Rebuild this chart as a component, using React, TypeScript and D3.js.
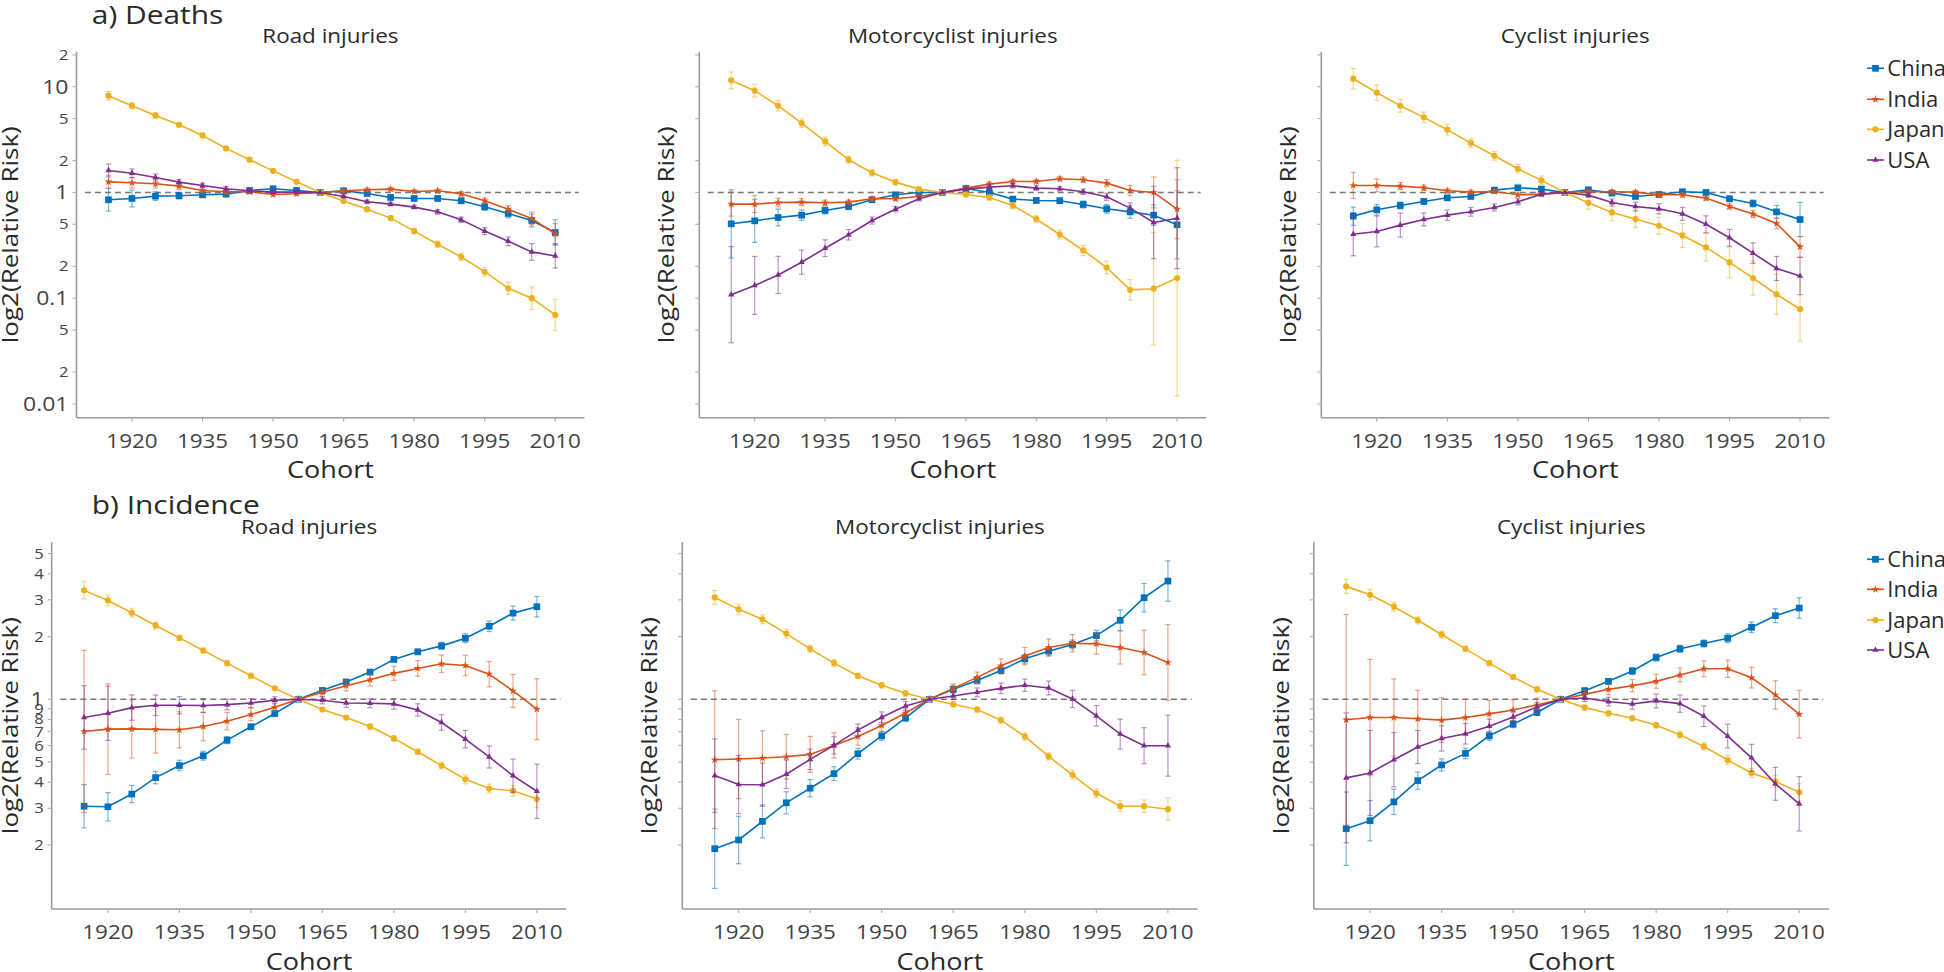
import React from "react";
import * as d3 from "d3";

// ---------- categories / labels ----------
const years = [1915, 1920, 1925, 1930, 1935, 1940, 1945, 1950, 1955, 1960, 1965, 1970, 1975, 1980, 1985, 1990, 1995, 2000, 2005, 2010];
const countries = ["China", "India", "Japan", "USA"];
const countryColors = ["#0072BD", "#D95319", "#EDB120", "#7E2F8E"];
const causes = ["Road injuries", "Motorcyclist injuries", "Cyclist injuries"];
const sectionTitles = ["a) Deaths", "b) Incidence"];
const xTickYears = [1920, 1935, 1950, 1965, 1980, 1995, 2010];
const deathTicks = [20, 10, 5, 2, 1, 0.5, 0.2, 0.1, 0.05, 0.02, 0.01];
const deathTickLabels = ["2", "10", "5", "2", "1", "5", "2", "0.1", "5", "2", "0.01"];
const incidenceTicks = [5, 4, 3, 2, 1, 0.9, 0.8, 0.7, 0.6, 0.5, 0.4, 0.3, 0.2];
const incidenceTickLabels = ["5", "4", "3", "2", "1", "9", "8", "7", "6", "5", "4", "3", "2"];
const majorTicks = [10, 1, 0.1, 0.01];

// ---------- a) Deaths: relative risk (value) and CI multiplicative half-width (err) ----------
const deathRoadChina = [0.853, 0.877, 0.923, 0.930, 0.950, 0.964, 1.044, 1.083, 1.044, 1, 1.037, 0.978, 0.897, 0.877, 0.877, 0.834, 0.732, 0.633, 0.543, 0.418];
const deathRoadChinaErr = [1.28, 1.2, 1.1, 1.07, 1.06, 1.05, 1.04, 1.04, 1.03, 1, 1.03, 1.04, 1.05, 1.05, 1.05, 1.06, 1.08, 1.1, 1.15, 1.32];
const deathRoadIndia = [1.26, 1.235, 1.208, 1.148, 1.044, 1.015, 1.015, 0.957, 0.971, 1, 1.037, 1.06, 1.075, 1.022, 1.037, 0.971, 0.834, 0.695, 0.567, 0.406];
const deathRoadIndiaErr = [1.15, 1.12, 1.1, 1.08, 1.06, 1.05, 1.04, 1.04, 1.03, 1, 1.03, 1.04, 1.04, 1.04, 1.04, 1.05, 1.06, 1.08, 1.15, 1.25];
const deathRoadJapan = [8.22, 6.61, 5.35, 4.37, 3.46, 2.61, 2.04, 1.60, 1.26, 1, 0.828, 0.695, 0.572, 0.431, 0.324, 0.246, 0.178, 0.124, 0.100, 0.0695];
const deathRoadJapanErr = [1.1, 1.07, 1.06, 1.05, 1.05, 1.04, 1.04, 1.04, 1.03, 1, 1.03, 1.04, 1.05, 1.06, 1.07, 1.08, 1.1, 1.14, 1.28, 1.4];
const deathRoadUSA = [1.615, 1.52, 1.387, 1.252, 1.165, 1.083, 1.037, 1.007, 1.007, 1, 0.917, 0.816, 0.776, 0.727, 0.656, 0.551, 0.431, 0.346, 0.274, 0.251];
const deathRoadUSAErr = [1.15, 1.1, 1.08, 1.06, 1.05, 1.05, 1.04, 1.03, 1.03, 1, 1.03, 1.04, 1.04, 1.04, 1.05, 1.06, 1.08, 1.1, 1.2, 1.3];

const deathMotoChina = [0.505, 0.539, 0.58, 0.61, 0.676, 0.737, 0.853, 0.95, 1.0, 1, 1.09, 1.0, 0.865, 0.84, 0.835, 0.77, 0.70, 0.655, 0.61, 0.495];
const deathMotoChinaErr = [2.1, 1.6, 1.2, 1.12, 1.08, 1.07, 1.05, 1.04, 1.03, 1, 1.03, 1.04, 1.05, 1.05, 1.06, 1.08, 1.1, 1.15, 1.25, 2.1];
const deathMotoIndia = [0.776, 0.776, 0.804, 0.81, 0.798, 0.81, 0.871, 0.871, 0.917, 1, 1.099, 1.199, 1.27, 1.27, 1.347, 1.318, 1.225, 1.044, 1.0, 0.695];
const deathMotoIndiaErr = [1.3, 1.2, 1.1, 1.08, 1.06, 1.05, 1.05, 1.04, 1.03, 1, 1.04, 1.05, 1.05, 1.05, 1.05, 1.06, 1.08, 1.12, 1.4, 1.9];
const deathMotoJapan = [11.48, 9.17, 6.61, 4.53, 3.04, 2.04, 1.535, 1.252, 1.075, 1, 0.957, 0.897, 0.753, 0.56, 0.40, 0.283, 0.195, 0.12, 0.123, 0.155];
const deathMotoJapanErr = [1.2, 1.15, 1.12, 1.1, 1.1, 1.08, 1.07, 1.06, 1.05, 1, 1.05, 1.06, 1.07, 1.08, 1.1, 1.12, 1.15, 1.25, 3.4, 13];
const deathMotoUSA = [0.108, 0.132, 0.166, 0.219, 0.297, 0.398, 0.543, 0.695, 0.871, 1, 1.075, 1.123, 1.156, 1.099, 1.083, 1.015, 0.91, 0.711, 0.52, 0.571];
const deathMotoUSAErr = [2.85, 1.88, 1.5, 1.3, 1.2, 1.12, 1.08, 1.06, 1.05, 1, 1.04, 1.05, 1.05, 1.05, 1.05, 1.06, 1.08, 1.12, 2.2, 3.0];

const deathCycleChina = [0.597, 0.685, 0.753, 0.822, 0.89, 0.917, 1.052, 1.107, 1.075, 1, 1.06, 0.985, 0.917, 0.957, 1.015, 1.0, 0.871, 0.787, 0.656, 0.555];
const deathCycleChinaErr = [1.22, 1.12, 1.08, 1.06, 1.05, 1.05, 1.04, 1.04, 1.03, 1, 1.03, 1.04, 1.05, 1.05, 1.05, 1.05, 1.06, 1.08, 1.15, 1.45];
const deathCycleIndia = [1.165, 1.165, 1.148, 1.107, 1.037, 1.007, 1.022, 0.95, 0.964, 1, 1.022, 1.015, 1.007, 0.95, 0.95, 0.884, 0.737, 0.624, 0.509, 0.306];
const deathCycleIndiaErr = [1.33, 1.15, 1.08, 1.06, 1.05, 1.05, 1.04, 1.04, 1.03, 1, 1.03, 1.04, 1.04, 1.04, 1.05, 1.05, 1.06, 1.08, 1.12, 1.25];
const deathCycleJapan = [11.9, 8.78, 6.61, 5.13, 3.92, 2.93, 2.22, 1.675, 1.30, 1, 0.798, 0.647, 0.56, 0.484, 0.392, 0.302, 0.218, 0.155, 0.109, 0.0787];
const deathCycleJapanErr = [1.25, 1.18, 1.15, 1.12, 1.12, 1.1, 1.1, 1.1, 1.1, 1, 1.15, 1.2, 1.2, 1.2, 1.3, 1.35, 1.4, 1.45, 1.55, 2.0];
const deathCycleUSA = [0.403, 0.428, 0.491, 0.555, 0.61, 0.656, 0.721, 0.816, 0.964, 1, 0.943, 0.804, 0.737, 0.70, 0.628, 0.501, 0.373, 0.267, 0.191, 0.162];
const deathCycleUSAErr = [1.6, 1.4, 1.3, 1.15, 1.12, 1.1, 1.08, 1.07, 1.05, 1, 1.05, 1.08, 1.1, 1.12, 1.15, 1.2, 1.2, 1.25, 1.3, 1.5];

// ---------- b) Incidence ----------
const incRoadChina = [0.307, 0.305, 0.351, 0.421, 0.481, 0.536, 0.637, 0.738, 0.854, 1, 1.104, 1.21, 1.35, 1.553, 1.689, 1.804, 1.963, 2.24, 2.59, 2.78];
const incRoadChinaErr = [1.27, 1.17, 1.1, 1.07, 1.06, 1.05, 1.04, 1.03, 1.03, 1, 1.03, 1.03, 1.03, 1.03, 1.03, 1.04, 1.05, 1.06, 1.08, 1.12];
const incRoadIndia = [0.701, 0.719, 0.721, 0.717, 0.714, 0.740, 0.785, 0.845, 0.916, 1, 1.08, 1.162, 1.241, 1.331, 1.406, 1.48, 1.453, 1.32, 1.096, 0.896];
const incRoadIndiaErr = [2.45, 1.65, 1.38, 1.3, 1.22, 1.17, 1.1, 1.07, 1.05, 1, 1.05, 1.06, 1.07, 1.08, 1.09, 1.1, 1.12, 1.15, 1.2, 1.4];
const incRoadJapan = [3.33, 2.98, 2.60, 2.26, 1.97, 1.714, 1.491, 1.297, 1.128, 1, 0.893, 0.817, 0.740, 0.649, 0.560, 0.481, 0.413, 0.373, 0.364, 0.332];
const incRoadJapanErr = [1.1, 1.06, 1.05, 1.04, 1.03, 1.03, 1.03, 1.03, 1.02, 1, 1.02, 1.02, 1.03, 1.03, 1.03, 1.04, 1.05, 1.05, 1.06, 1.1];
const incRoadUSA = [0.818, 0.857, 0.912, 0.936, 0.936, 0.933, 0.943, 0.96, 0.989, 1, 0.989, 0.96, 0.957, 0.95, 0.889, 0.774, 0.644, 0.529, 0.43, 0.362];
const incRoadUSAErr = [1.42, 1.35, 1.15, 1.12, 1.1, 1.08, 1.06, 1.05, 1.04, 1, 1.04, 1.05, 1.05, 1.06, 1.07, 1.09, 1.1, 1.13, 1.2, 1.35];

const incMotoChina = [0.192, 0.2114, 0.2596, 0.3187, 0.3745, 0.4398, 0.548, 0.668, 0.814, 1, 1.116, 1.232, 1.375, 1.564, 1.701, 1.831, 2.021, 2.393, 3.07, 3.69];
const incMotoChinaErr = [1.55, 1.3, 1.2, 1.13, 1.1, 1.08, 1.06, 1.05, 1.04, 1, 1.04, 1.04, 1.04, 1.05, 1.05, 1.05, 1.06, 1.12, 1.17, 1.25];
const incMotoIndia = [0.513, 0.517, 0.523, 0.53, 0.544, 0.601, 0.663, 0.749, 0.86, 1, 1.128, 1.274, 1.448, 1.611, 1.771, 1.858, 1.845, 1.771, 1.677, 1.502];
const incMotoIndiaErr = [2.14, 1.55, 1.35, 1.28, 1.22, 1.15, 1.1, 1.07, 1.05, 1, 1.05, 1.06, 1.08, 1.1, 1.1, 1.1, 1.12, 1.2, 1.28, 1.52];
const incMotoJapan = [3.08, 2.70, 2.42, 2.066, 1.746, 1.491, 1.297, 1.167, 1.068, 1, 0.946, 0.893, 0.794, 0.663, 0.532, 0.434, 0.354, 0.307, 0.307, 0.297];
const incMotoJapanErr = [1.08, 1.06, 1.05, 1.05, 1.04, 1.04, 1.03, 1.03, 1.03, 1, 1.03, 1.03, 1.03, 1.04, 1.04, 1.05, 1.05, 1.06, 1.07, 1.13];
const incMotoUSA = [0.4305, 0.39, 0.389, 0.437, 0.515, 0.601, 0.711, 0.82, 0.929, 1, 1.037, 1.08, 1.128, 1.167, 1.133, 1.004, 0.833, 0.681, 0.599, 0.599];
const incMotoUSAErr = [1.5, 1.38, 1.27, 1.17, 1.12, 1.1, 1.07, 1.06, 1.05, 1, 1.04, 1.05, 1.06, 1.07, 1.08, 1.1, 1.12, 1.18, 1.22, 1.4];

const incCycleChina = [0.2394, 0.2615, 0.322, 0.407, 0.484, 0.55, 0.668, 0.76, 0.864, 1, 1.10, 1.219, 1.366, 1.587, 1.746, 1.851, 1.963, 2.215, 2.518, 2.74];
const incCycleChinaErr = [1.5, 1.25, 1.15, 1.1, 1.07, 1.06, 1.05, 1.04, 1.03, 1, 1.03, 1.03, 1.04, 1.04, 1.04, 1.04, 1.05, 1.06, 1.08, 1.12];
const incCycleIndia = [0.797, 0.818, 0.818, 0.806, 0.794, 0.818, 0.851, 0.889, 0.939, 1, 1.056, 1.116, 1.162, 1.219, 1.307, 1.401, 1.401, 1.269, 1.049, 0.848];
const incCycleIndiaErr = [3.2, 1.9, 1.53, 1.37, 1.28, 1.22, 1.16, 1.12, 1.08, 1, 1.05, 1.06, 1.07, 1.08, 1.08, 1.09, 1.1, 1.12, 1.17, 1.3];
const incCycleJapan = [3.48, 3.17, 2.78, 2.393, 2.044, 1.746, 1.491, 1.279, 1.116, 1, 0.912, 0.857, 0.811, 0.751, 0.676, 0.594, 0.511, 0.443, 0.404, 0.358];
const incCycleJapanErr = [1.08, 1.06, 1.05, 1.04, 1.04, 1.03, 1.03, 1.03, 1.03, 1, 1.03, 1.03, 1.03, 1.03, 1.04, 1.04, 1.05, 1.05, 1.07, 1.1];
const incCycleUSA = [0.4196, 0.4432, 0.513, 0.59, 0.649, 0.683, 0.743, 0.823, 0.919, 1, 1.015, 0.975, 0.95, 0.982, 0.953, 0.829, 0.666, 0.524, 0.393, 0.315];
const incCycleUSAErr = [2.05, 1.6, 1.35, 1.2, 1.15, 1.12, 1.08, 1.06, 1.05, 1, 1.04, 1.05, 1.06, 1.08, 1.1, 1.12, 1.14, 1.16, 1.2, 1.35];

// ---------- assemble ----------
const deathPanels = [
  { values: [deathRoadChina, deathRoadIndia, deathRoadJapan, deathRoadUSA], errs: [deathRoadChinaErr, deathRoadIndiaErr, deathRoadJapanErr, deathRoadUSAErr] },
  { values: [deathMotoChina, deathMotoIndia, deathMotoJapan, deathMotoUSA], errs: [deathMotoChinaErr, deathMotoIndiaErr, deathMotoJapanErr, deathMotoUSAErr] },
  { values: [deathCycleChina, deathCycleIndia, deathCycleJapan, deathCycleUSA], errs: [deathCycleChinaErr, deathCycleIndiaErr, deathCycleJapanErr, deathCycleUSAErr] },
];
const incPanels = [
  { values: [incRoadChina, incRoadIndia, incRoadJapan, incRoadUSA], errs: [incRoadChinaErr, incRoadIndiaErr, incRoadJapanErr, incRoadUSAErr] },
  { values: [incMotoChina, incMotoIndia, incMotoJapan, incMotoUSA], errs: [incMotoChinaErr, incMotoIndiaErr, incMotoJapanErr, incMotoUSAErr] },
  { values: [incCycleChina, incCycleIndia, incCycleJapan, incCycleUSA], errs: [incCycleChinaErr, incCycleIndiaErr, incCycleJapanErr, incCycleUSAErr] },
];

// ---------- layout ----------
const W = 1944;
const H = 972;
const FONT = "'Open Sans', 'Noto Sans', sans-serif";
const SX = 1.15; // horizontal text stretch of the original
const X_DOMAIN: [number, number] = [1908.2, 2016.2];

const rows = [
  {
    title: sectionTitles[0], titleY: 23.5, panelTitleY: 43.3, y0: 51.7, y1: 417.7,
    yDomain: [Math.pow(10, -2.13), Math.pow(10, 1.331)], ticks: deathTicks, tickLabels: deathTickLabels,
    xs: [[76.5, 584.4], [699.3, 1206.2], [1321.3, 1829.2]], yTitleX: [17.5, 673.5, 1296],
    legendY: [68.3, 99.3, 129.3, 160], panels: deathPanels,
  },
  {
    title: sectionTitles[1], titleY: 514, panelTitleY: 534, y0: 542.3, y1: 909,
    yDomain: [Math.pow(10, -1.006), Math.pow(10, 0.753)], ticks: incidenceTicks, tickLabels: incidenceTickLabels,
    xs: [[51.7, 566.4], [682.3, 1197.5], [1313.8, 1828.8]], yTitleX: [17.5, 657, 1289],
    legendY: [559.3, 589.3, 620, 650], panels: incPanels,
  },
];

const symbolTypes = [d3.symbolSquare, d3.symbolStar, d3.symbolCircle, d3.symbolTriangle];
const symbolSizes = [45, 20, 30, 17];
const symbolPaths = symbolTypes.map((t, i) => d3.symbol().type(t).size(symbolSizes[i])() as string);

function SText(props: { x: number; y: number; size: number; anchor?: string; fill?: string; sx?: number; children: React.ReactNode }) {
  const { x, y, size, anchor = "start", fill = "#2a2a2a", sx = SX, children } = props;
  return (
    <g transform={`translate(${x},${y}) scale(${sx},1)`}>
      <text x={0} y={0} fontSize={size} textAnchor={anchor as any} fill={fill} fontFamily={FONT}>
        {children}
      </text>
    </g>
  );
}

function Panel(props: { row: any; col: number }) {
  const { row, col } = props;
  const [x0, x1] = row.xs[col];
  const { y0, y1 } = row;
  const xScale = d3.scaleLinear().domain(X_DOMAIN).range([x0, x1]);
  const yScale = d3.scaleLog().domain(row.yDomain).range([y1, y0]);
  const data = row.panels[col];
  const line = d3
    .line<number>()
    .x((_, i) => xScale(years[i]))
    .y((v) => yScale(v));
  const cx = (x0 + x1) / 2;
  const cy = (y0 + y1) / 2;
  const showLabels = col === 0;

  return (
    <g>
      {/* panel title */}
      <SText x={cx} y={row.panelTitleY} size={19.5} anchor="middle">{causes[col]}</SText>
      {/* reference line at RR = 1 */}
      <line x1={xScale(1910)} x2={xScale(2015)} y1={yScale(1)} y2={yScale(1)} stroke="#7a7a7a" strokeWidth={1.5} strokeDasharray="6,4" />
      {/* axes */}
      <line x1={x0} x2={x0} y1={y0} y2={y1} stroke="#9a9a9a" strokeWidth={1.6} />
      <line x1={x0} x2={x1} y1={y1} y2={y1} stroke="#9a9a9a" strokeWidth={1.6} />
      {row.ticks.map((t: number, i: number) => {
        const y = yScale(t);
        const major = majorTicks.includes(t);
        return (
          <g key={"yt" + i}>
            <line x1={x0 - 4} x2={x0} y1={y} y2={y} stroke="#b5b5b5" strokeWidth={1.2} />
            {showLabels && (
              <SText x={x0 - 8} y={y + (major ? 7 : 5)} size={major ? 20 : 14.5} anchor="end" fill="#444">
                {row.tickLabels[i]}
              </SText>
            )}
          </g>
        );
      })}
      {xTickYears.map((yr) => {
        const x = xScale(yr);
        return (
          <g key={"xt" + yr}>
            <line x1={x} x2={x} y1={y1} y2={y1 + 4} stroke="#b5b5b5" strokeWidth={1.2} />
            <SText x={x} y={y1 + 30.3} size={19.5} anchor="middle" fill="#444">{String(yr)}</SText>
          </g>
        );
      })}
      {/* axis titles */}
      <SText x={cx} y={y1 + 60.5} size={23.5} anchor="middle">Cohort</SText>
      <text
        transform={`translate(${row.yTitleX[col]},${cy}) rotate(-90)`}
        textAnchor="middle"
        fontSize={22}
        fontFamily={FONT}
        fill="#2a2a2a"
        textLength={217}
        lengthAdjust="spacingAndGlyphs"
      >
        log2(Relative Risk)
      </text>
      {/* series */}
      {countries.map((c, si) => {
        const vals: number[] = data.values[si];
        const errs: number[] = data.errs[si];
        const color = countryColors[si];
        return (
          <g key={c}>
            <g stroke={color} strokeOpacity={0.5} strokeWidth={1.2}>
              {vals.map((v, i) => {
                const e = errs[i];
                if (e <= 1) return null;
                const x = xScale(years[i]);
                const ya = yScale(v * e);
                const yb = yScale(v / e);
                return (
                  <g key={i}>
                    <line x1={x} x2={x} y1={ya} y2={yb} />
                    <line x1={x - 2.7} x2={x + 2.7} y1={ya} y2={ya} />
                    <line x1={x - 2.7} x2={x + 2.7} y1={yb} y2={yb} />
                  </g>
                );
              })}
            </g>
            <path d={line(vals) as string} fill="none" stroke={color} strokeWidth={1.6} />
            {vals.map((v, i) => (
              <path key={i} d={symbolPaths[si]} transform={`translate(${xScale(years[i])},${yScale(v)})`} fill={color} />
            ))}
          </g>
        );
      })}
    </g>
  );
}

function Legend(props: { ys: number[] }) {
  return (
    <g>
      {countries.map((c, i) => (
        <g key={c}>
          <line x1={1867} x2={1884} y1={props.ys[i]} y2={props.ys[i]} stroke={countryColors[i]} strokeWidth={1.6} />
          <path d={symbolPaths[i]} transform={`translate(1875.5,${props.ys[i]})`} fill={countryColors[i]} />
          <text x={1887.3} y={props.ys[i] + 8} fontSize={22} fontFamily={FONT} fill="#2a2a2a">{c}</text>
        </g>
      ))}
    </g>
  );
}

export default function App() {
  return (
    <svg
      width={W}
      height={H}
      viewBox={`0 0 ${W} ${H}`}
      style={{ position: "absolute", left: 0, top: 0, background: "#fff" }}
    >
      <rect x={0} y={0} width={W} height={H} fill="#fff" />
      {rows.map((row, ri) => (
        <g key={ri}>
          <SText x={91.8} y={row.titleY} size={26}>{row.title}</SText>
          {[0, 1, 2].map((col) => (
            <Panel key={col} row={row} col={col} />
          ))}
          <Legend ys={row.legendY} />
        </g>
      ))}
    </svg>
  );
}
